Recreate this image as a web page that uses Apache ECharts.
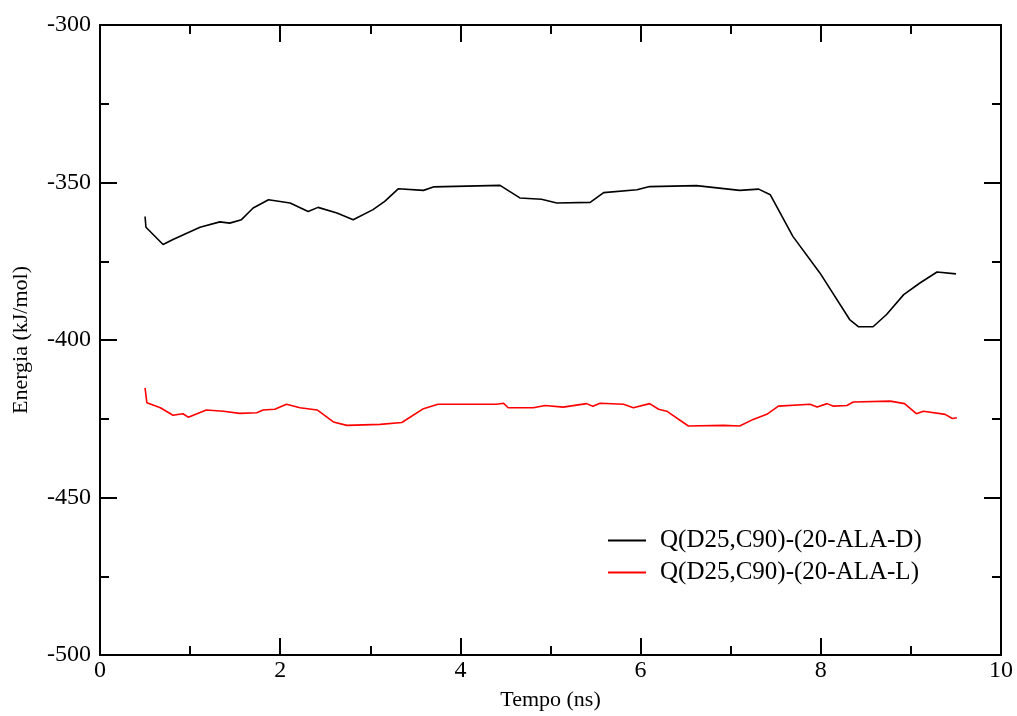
<!DOCTYPE html>
<html>
<head>
<meta charset="utf-8">
<script src="https://cdn.jsdelivr.net/npm/echarts@6/dist/echarts.min.js"></script>
<style>html,body{margin:0;padding:0;background:#fff}#c{width:1017px;height:716px}</style>
</head>
<body>
<div id="c"></div>
<script>
const seriesNames = ['Q(D25,C90)-(20-ALA-D)', 'Q(D25,C90)-(20-ALA-L)'];
const timeD = [0.50,0.51,0.70,0.81,1.11,1.33,1.44,1.57,1.70,1.87,2.11,2.31,2.42,2.63,2.81,3.03,3.16,3.31,3.59,3.70,4.44,4.66,4.90,5.07,5.44,5.59,5.96,6.10,6.62,7.10,7.31,7.44,7.69,7.99,8.32,8.42,8.58,8.73,8.92,9.10,9.29,9.50];
const energyD = [-360.8,-364.2,-369.7,-368.1,-364.2,-362.5,-362.9,-361.8,-358.1,-355.5,-356.5,-359.2,-357.9,-359.7,-361.8,-358.6,-356.0,-352.0,-352.5,-351.4,-350.9,-354.9,-355.3,-356.5,-356.3,-353.2,-352.3,-351.3,-351.0,-352.5,-352.1,-353.9,-367.1,-378.7,-393.5,-395.8,-395.8,-391.9,-385.6,-381.9,-378.4,-379.0];
const timeL = [0.50,0.52,0.67,0.81,0.92,0.98,1.18,1.37,1.55,1.74,1.81,1.94,2.07,2.22,2.41,2.59,2.74,3.11,3.35,3.59,3.75,4.40,4.48,4.53,4.81,4.94,5.14,5.40,5.47,5.55,5.81,5.92,6.10,6.20,6.29,6.53,6.92,7.10,7.25,7.40,7.53,7.88,7.96,8.07,8.14,8.29,8.36,8.77,8.93,9.06,9.14,9.38,9.46,9.51];
const energyL = [-415.2,-419.9,-421.5,-423.9,-423.4,-424.5,-422.2,-422.6,-423.3,-423.1,-422.2,-422.0,-420.4,-421.5,-422.2,-426.0,-427.1,-426.8,-426.2,-421.8,-420.4,-420.4,-420.1,-421.5,-421.5,-420.8,-421.3,-420.2,-421.0,-420.1,-420.4,-421.5,-420.2,-422.0,-422.6,-427.3,-427.1,-427.3,-425.2,-423.6,-421.0,-420.4,-421.3,-420.2,-421.0,-420.8,-419.7,-419.4,-420.2,-423.4,-422.6,-423.6,-424.9,-424.7];
const xTitle = 'Tempo (ns)';
const yTitle = 'Energia (kJ/mol)';

const font = 'Liberation Serif, Times New Roman, serif';
const axisLine = {show: true, onZero: false, lineStyle: {color: '#000', width: 2}};
const tick = {show: true, inside: true, length: 17, lineStyle: {color: '#000', width: 2}};
const minor = {show: true, splitNumber: 2, length: 9, lineStyle: {color: '#000', width: 2}};
const zip = (a, b) => a.map((v, i) => [v, b[i]]);

const chart = echarts.init(document.getElementById('c'));
chart.setOption({
  animation: false,
  backgroundColor: '#fff',
  grid: {left: 100, right: 16, top: 25, bottom: 60, containLabel: false},
  legend: {
    left: 603, top: 523, orient: 'vertical',
    itemWidth: 38, itemHeight: 2, itemGap: 7, icon: 'rect',
    textStyle: {fontFamily: font, fontSize: 25, color: '#000', lineHeight: 25, padding: [0, 0, 0, 9]},
    data: seriesNames
  },
  xAxis: [
    {type: 'value', position: 'bottom', min: 0, max: 10, interval: 2,
     name: xTitle, nameLocation: 'middle', nameGap: 34,
     nameTextStyle: {fontFamily: font, fontSize: 22, color: '#000'},
     axisLine, axisTick: tick, minorTick: minor, splitLine: {show: false},
     axisLabel: {fontFamily: font, fontSize: 24, color: '#000', margin: 4}},
    {type: 'value', position: 'top', min: 0, max: 10, interval: 2,
     axisLine, axisTick: tick, minorTick: minor, splitLine: {show: false},
     axisLabel: {show: false}}
  ],
  yAxis: [
    {type: 'value', position: 'left', min: -500, max: -300, interval: 50,
     name: yTitle, nameLocation: 'middle', nameGap: 68, nameRotate: 90,
     nameTextStyle: {fontFamily: font, fontSize: 22, color: '#000'},
     axisLine, axisTick: tick, minorTick: minor, splitLine: {show: false},
     axisLabel: {fontFamily: font, fontSize: 24, color: '#000', margin: 9}},
    {type: 'value', position: 'right', min: -500, max: -300, interval: 50,
     axisLine, axisTick: tick, minorTick: minor, splitLine: {show: false},
     axisLabel: {show: false}}
  ],
  series: [
    {name: seriesNames[0], type: 'line', data: zip(timeD, energyD), showSymbol: false, symbol: 'none',
     lineStyle: {color: '#000', width: 1.6}, itemStyle: {color: '#000'}},
    {name: seriesNames[1], type: 'line', data: zip(timeL, energyL), showSymbol: false, symbol: 'none',
     lineStyle: {color: '#ff0000', width: 1.6}, itemStyle: {color: '#ff0000'}}
  ]
});
</script>
</body>
</html>
